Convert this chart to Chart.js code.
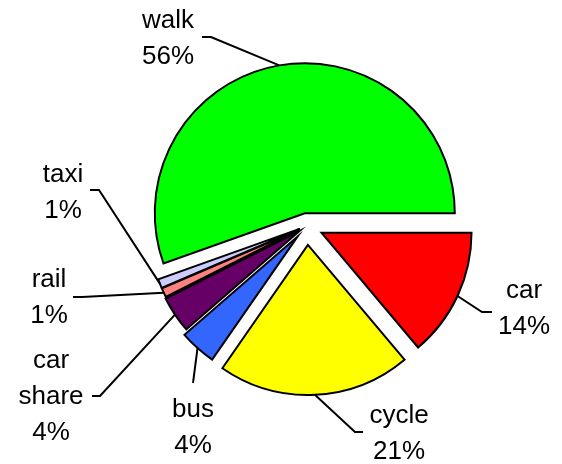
<!DOCTYPE html>
<html>
<head>
<meta charset="utf-8">
<script src="https://cdn.jsdelivr.net/npm/chart.js@4.4.0/dist/chart.umd.min.js"></script>
<style>
  html, body { margin: 0; padding: 0; background: #fff; }
</style>
</head>
<body>
<canvas id="grafico" width="562" height="464"></canvas>
<script>
// modos de transporte, en sentido horario desde las 3 en punto
const modos = ['car', 'cycle', 'bus', 'car share', 'rail', 'taxi', 'walk'];
const porcentajes = [14, 21, 4, 4, 1, 1, 56];
const colores = ['#ff0000', '#ffff00', '#3366ff', '#660066', '#ff8080', '#ccccff', '#00ff00'];

// separacion de cada porcion (px) y donde van las etiquetas
const separacion = [16, 19, 14, 9, 8, 8, 13];
const posEtiqueta = [[524, 298], [399, 423], [193, 417], [51, 368], [49, 287], [63, 182], [168, 28]];
const codoLinea = [
    [[482, 312], [492, 312]],
    [[355, 432], [363, 432]],
    [[193, 383]],
    [[100, 396], [92, 396]],
    [[82, 297], [73, 297]],
    [[99, 190], [90, 190]],
    [[211, 37], [202, 37]]
];

const fuente = '26px "Liberation Sans", Arial, sans-serif';
const interlineado = 36;

const explotar = {
    id: 'explotar',
    afterDatasetUpdate(chart, args) {
        args.meta.data.forEach((arc, i) => {
            const mid = (arc.startAngle + arc.endAngle) / 2;
            arc.x += Math.cos(mid) * separacion[i];
            arc.y += Math.sin(mid) * separacion[i];
        });
    }
};

const etiquetas = {
    id: 'etiquetas',
    afterDraw(chart) {
        const ctx = chart.ctx;
        const arcs = chart.getDatasetMeta(0).data;
        ctx.save();
        ctx.strokeStyle = '#000';
        ctx.lineWidth = 2;
        arcs.forEach((arc, i) => {
            const mid = (arc.startAngle + arc.endAngle) / 2;
            ctx.beginPath();
            ctx.moveTo(arc.x + Math.cos(mid) * arc.outerRadius, arc.y + Math.sin(mid) * arc.outerRadius);
            codoLinea[i].forEach(p => ctx.lineTo(p[0], p[1]));
            ctx.stroke();
        });
        ctx.fillStyle = '#000';
        ctx.font = fuente;
        ctx.textAlign = 'center';
        ctx.textBaseline = 'alphabetic';
        modos.forEach((m, i) => {
            const lineas = m.split(' ').concat([porcentajes[i] + '%']);
            lineas.forEach((t, k) => {
                ctx.fillText(t, posEtiqueta[i][0], posEtiqueta[i][1] + k * interlineado);
            });
        });
        ctx.restore();
    }
};

new Chart(document.getElementById('grafico'), {
    type: 'pie',
    data: {
        labels: modos,
        datasets: [{
            data: porcentajes,
            backgroundColor: colores,
            borderColor: '#000',
            borderWidth: 2,
            borderJoinStyle: 'miter',
            radius: 150
        }]
    },
    options: {
        responsive: false,
        animation: false,
        rotation: 90,
        layout: { padding: { left: 52, right: 0, top: 0, bottom: 12 } },
        plugins: { legend: { display: false }, tooltip: { enabled: false } }
    },
    plugins: [explotar, etiquetas]
});
</script>
</body>
</html>
